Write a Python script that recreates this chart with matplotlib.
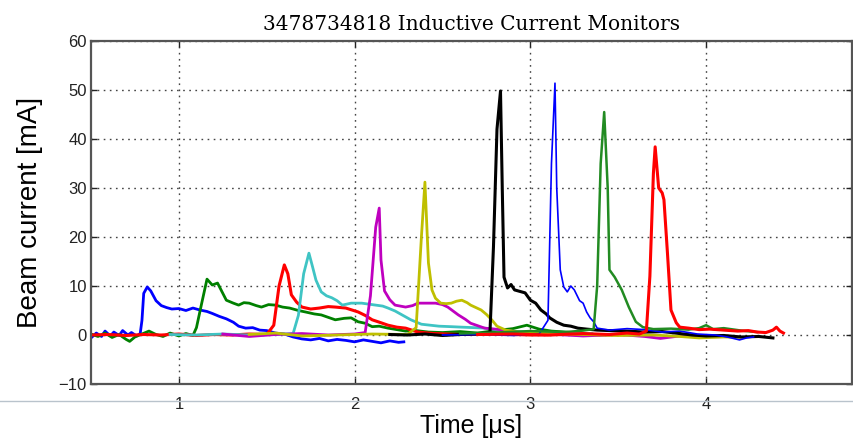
import matplotlib
matplotlib.use("Agg")
import matplotlib.pyplot as plt
from matplotlib.lines import Line2D

# monitor traces: time [us] and beam current [mA], one pair per monitor
t_b1 = [0.50, 0.53, 0.56, 0.58, 0.61, 0.63, 0.66, 0.68, 0.71, 0.73, 0.76, 0.78, 0.79, 0.80,
        0.82, 0.84, 0.87, 0.90, 0.93, 0.96, 1.00, 1.04, 1.08, 1.12, 1.16, 1.19, 1.23, 1.27,
        1.31, 1.34, 1.38, 1.42, 1.46, 1.50, 1.55, 1.60, 1.65, 1.70, 1.75, 1.80, 1.85, 1.90,
        1.95, 2.00, 2.05, 2.10, 2.15, 2.20, 2.25, 2.28]
i_b1 = [-0.6, 0.4, -0.3, 0.8, -0.2, 0.6, -0.1, 0.9, 0.0, 0.5, -0.2, 0.3, 3.0, 8.5,
        9.8, 9.0, 7.0, 6.0, 5.6, 5.3, 5.4, 5.0, 5.5, 5.1, 4.8, 4.4, 3.8, 3.3,
        2.6, 1.8, 1.4, 1.5, 1.0, 0.9, 0.4, 0.2, -0.4, -0.8, -1.0, -0.7, -1.2, -0.9,
        -1.1, -1.4, -1.0, -1.3, -1.6, -1.2, -1.5, -1.4]

t_g1 = [0.50, 0.54, 0.58, 0.62, 0.66, 0.70, 0.72, 0.75, 0.79, 0.83, 0.87, 0.91, 0.95, 1.00,
        1.04, 1.08, 1.10, 1.13, 1.16, 1.19, 1.22, 1.25, 1.27, 1.31, 1.34, 1.37, 1.40, 1.44,
        1.47, 1.51, 1.55, 1.59, 1.63, 1.68, 1.72, 1.77, 1.81, 1.85, 1.89, 1.94, 1.98, 2.02,
        2.06, 2.10, 2.14, 2.19, 2.24, 2.29, 2.35, 2.42, 2.50, 2.60, 2.70, 2.80, 2.90, 2.98,
        3.05, 3.12, 3.20, 3.28]
i_g1 = [0.2, -0.3, 0.4, -0.5, 0.1, -0.9, -1.3, -0.4, 0.2, 0.8, 0.1, -0.3, 0.4, -0.2,
        0.3, -0.1, 1.5, 6.5, 11.4, 10.2, 10.6, 8.5, 7.1, 6.5, 6.1, 6.6, 6.5, 6.0,
        5.7, 6.2, 6.1, 5.7, 5.5, 5.0, 4.7, 4.3, 4.1, 3.6, 3.1, 3.4, 3.5, 2.7,
        2.4, 1.7, 1.8, 1.4, 1.1, 0.8, 0.9, 0.6, 0.5, 0.7, 0.4, 0.9, 1.3, 2.0,
        1.2, 0.8, 0.6, 0.4]

t_r1 = [0.50, 0.60, 0.70, 0.80, 0.90, 1.00, 1.10, 1.20, 1.30, 1.40, 1.50, 1.54, 1.57, 1.60,
        1.62, 1.64, 1.67, 1.70, 1.75, 1.80, 1.85, 1.89, 1.95, 2.02, 2.06, 2.10, 2.15, 2.19,
        2.24, 2.29, 2.36, 2.45, 2.60, 2.80, 3.00, 3.20, 3.40, 3.55]
i_r1 = [0.0, 0.1, -0.1, 0.1, 0.0, 0.2, -0.1, 0.1, 0.0, 0.2, 0.1, 2.0, 10.0, 14.3,
        12.5, 8.2, 6.7, 5.7, 5.3, 5.5, 5.8, 5.7, 5.5, 4.7, 4.0, 3.1, 2.5, 2.0,
        1.6, 1.4, 0.6, 0.3, 0.1, 0.2, 0.0, 0.1, 0.0, 0.1]

t_c1 = [0.95, 1.10, 1.25, 1.40, 1.55, 1.65, 1.68, 1.71, 1.74, 1.76, 1.78, 1.81, 1.84, 1.87,
        1.90, 1.93, 1.98, 2.04, 2.08, 2.12, 2.16, 2.19, 2.23, 2.27, 2.32, 2.38, 2.43, 2.48,
        2.55, 2.61, 2.68, 2.74, 2.82, 2.92, 3.05, 3.20, 3.35]
i_c1 = [0.1, 0.0, 0.2, 0.0, 0.1, 0.3, 4.0, 12.5, 16.7, 14.0, 11.2, 8.8, 8.0, 7.6,
        7.0, 6.1, 6.5, 6.5, 6.3, 6.1, 5.9, 5.5, 4.9, 4.1, 3.1, 2.2, 2.0, 1.8,
        1.7, 1.6, 1.5, 1.4, 1.0, 0.7, 0.5, 0.4, 0.3]

t_m1 = [1.25, 1.40, 1.55, 1.70, 1.85, 2.00, 2.06, 2.09, 2.12, 2.14, 2.15, 2.17, 2.20, 2.23,
        2.26, 2.29, 2.33, 2.36, 2.41, 2.46, 2.50, 2.53, 2.56, 2.59, 2.63, 2.66, 2.70, 2.74,
        2.80, 2.85, 2.95, 3.10, 3.30, 3.50, 3.65, 3.74, 3.85, 4.00, 4.15]
i_m1 = [0.2, -0.3, 0.1, 0.3, 0.0, 0.2, 0.5, 8.0, 22.0, 25.9, 15.3, 9.0, 7.2, 6.1,
        5.9, 5.7, 6.0, 6.5, 6.5, 6.5, 6.2, 5.7, 4.9, 4.1, 3.2, 2.4, 1.9, 1.4,
        1.2, 1.0, 0.4, 0.2, -0.2, 0.1, -0.3, -0.7, -0.2, -0.4, -0.3]

t_y1 = [1.40, 1.55, 1.70, 1.90, 2.10, 2.30, 2.35, 2.38, 2.40, 2.42, 2.44, 2.46, 2.49, 2.52,
        2.55, 2.58, 2.61, 2.64, 2.66, 2.69, 2.72, 2.75, 2.78, 2.81, 2.86, 2.95, 3.10, 3.30,
        3.50, 3.70, 3.85, 3.96, 4.10, 4.22]
i_y1 = [0.1, 0.4, -0.2, 0.0, 0.2, 0.1, 1.5, 20.0, 31.2, 14.7, 9.2, 7.5, 6.5, 6.4,
        6.5, 6.9, 7.1, 6.6, 6.1, 5.6, 5.1, 4.2, 3.1, 1.8, 1.0, 0.5, 0.3, 0.1,
        -0.1, 0.0, -0.3, -0.6, -0.4, -0.5]

t_k1 = [2.20, 2.30, 2.40, 2.50, 2.60, 2.70, 2.77, 2.79, 2.81, 2.83, 2.84, 2.85, 2.87, 2.89,
        2.91, 2.94, 2.97, 3.00, 3.03, 3.06, 3.09, 3.11, 3.15, 3.19, 3.23, 3.27, 3.32, 3.38,
        3.45, 3.55, 3.65, 3.75, 3.85, 3.92, 4.00, 4.10, 4.20, 4.30, 4.38]
i_k1 = [0.1, 0.0, 0.2, -0.1, 0.1, 0.2, 0.5, 18.0, 42.0, 49.8, 30.0, 11.8, 9.6, 10.3,
        9.2, 8.9, 8.6, 7.1, 6.5, 5.1, 4.3, 3.5, 2.6, 2.0, 1.8, 1.4, 1.2, 1.0,
        0.9, 0.8, 0.6, 0.7, 0.3, 0.0, -0.2, -0.1, -0.4, -0.3, -0.6]

t_b2 = [2.50, 2.70, 2.90, 3.05, 3.10, 3.12, 3.14, 3.15, 3.17, 3.19, 3.21, 3.23, 3.25, 3.28,
        3.30, 3.32, 3.34, 3.36, 3.38, 3.45, 3.55, 3.65, 3.75, 3.85, 3.95, 4.05, 4.12, 4.19,
        4.23, 4.27]
i_b2 = [0.0, 0.1, -0.1, 0.2, 3.0, 35.0, 51.4, 30.0, 13.3, 9.8, 8.8, 10.0, 9.2, 7.0,
        6.5, 4.7, 3.5, 2.7, 1.4, 1.0, 1.3, 1.1, 0.6, 0.8, 0.2, 0.0, -0.4, -1.0,
        -0.6, -0.4]

t_g2 = [2.60, 2.80, 3.00, 3.20, 3.30, 3.36, 3.38, 3.40, 3.42, 3.44, 3.45, 3.48, 3.52, 3.56,
        3.60, 3.64, 3.70, 3.80, 3.90, 3.96, 4.00, 4.04, 4.10, 4.20, 4.29]
i_g2 = [0.3, 0.5, 0.8, 0.6, 0.9, 1.2, 10.0, 35.0, 45.5, 30.0, 13.3, 11.8, 9.2, 5.7,
        2.7, 1.6, 1.2, 1.3, 1.1, 1.4, 2.0, 1.2, 1.4, 0.9, 0.6]

t_r2 = [2.70, 2.90, 3.10, 3.30, 3.45, 3.55, 3.62, 3.66, 3.68, 3.70, 3.71, 3.73, 3.75, 3.76,
        3.78, 3.80, 3.83, 3.85, 3.90, 3.96, 4.02, 4.10, 4.18, 4.24, 4.29, 4.34, 4.38, 4.40,
        4.42, 4.44]
i_r2 = [0.1, 0.2, 0.0, 0.3, 0.1, 0.4, 0.2, 0.8, 12.0, 33.0, 38.4, 30.0, 29.0, 27.6,
        16.7, 5.1, 2.5, 1.6, 1.4, 1.1, 1.2, 1.0, 0.8, 0.9, 0.6, 0.5, 1.0, 1.6,
        0.8, 0.4]

traces = [(t_b1, i_b1), (t_g1, i_g1), (t_r1, i_r1), (t_c1, i_c1), (t_m1, i_m1),
          (t_y1, i_y1), (t_k1, i_k1), (t_b2, i_b2), (t_g2, i_g2), (t_r2, i_r2)]
colors = ['#0000ff', '#008000', '#ff0000', '#3fc4c4', '#bf00bf',
          '#bfbf00', '#000000', '#0000ff', '#228b22', '#ff0000']
widths = [2.0, 2.0, 2.2, 2.0, 2.0, 2.0, 2.2, 1.2, 1.8, 2.2]

xticks = [1, 2, 3, 4]
yticks = [-10, 0, 10, 20, 30, 40, 50, 60]


def main():
    fig = plt.figure(figsize=(8.54, 4.40), dpi=100)
    ax = fig.add_axes([91/854, 56/440, 761/854, 343/440])

    for (t, i), c, w in zip(traces, colors, widths):
        ax.plot(t, i, '-', color=c, lw=w)

    ax.set_xlim(0.5, 4.83)
    ax.set_ylim(-10, 60)
    ax.set_xticks(xticks)
    ax.set_yticks(yticks)
    ax.set_yticklabels(['\u221210'] + [str(v) for v in yticks[1:]])
    # sparse dotted grid
    ax.grid(True, color='#444444', linestyle=(0, (1.2, 3.2)), lw=1.0)

    ax.tick_params(direction='in', length=4, width=1, top=True, right=True,
                   labelsize=12, colors='#222222')
    ax.tick_params(axis='x', pad=9)
    ax.tick_params(axis='y', pad=3)
    for lab in ax.get_xticklabels() + ax.get_yticklabels():
        lab.set_family('Liberation Sans')
    for sp in ax.spines.values():
        sp.set_color('#555555')
        sp.set_linewidth(1.6)

    ax.set_title('3478734818 Inductive Current Monitors', family='DejaVu Serif',
                 fontsize=14.5, pad=8)
    ax.set_xlabel('Time [\u03bcs]', family='Liberation Sans', fontsize=18, labelpad=2)
    ax.set_ylabel('Beam current [mA]', family='Liberation Sans', fontsize=20, labelpad=11)

    # thin separator line running across the lower part of the figure
    fig.add_artist(Line2D([0, 1], [1 - 401/440, 1 - 401/440], transform=fig.transFigure,
                          color='#b9c3cc', lw=1.0))

    fig.savefig('out.png', dpi=100)


if __name__ == "__main__":
    main()
